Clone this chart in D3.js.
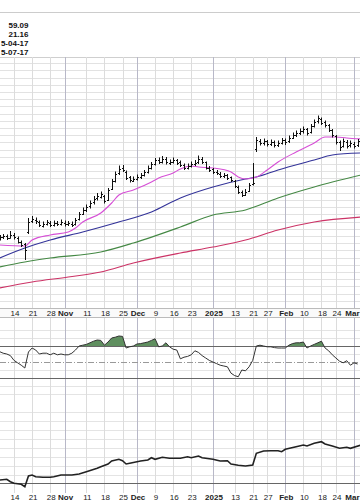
<!DOCTYPE html>
<html><head><meta charset="utf-8">
<script src="https://cdn.jsdelivr.net/npm/d3@7"></script>
<style>body{margin:0;background:#fff}svg{display:block}text{font-family:"Liberation Sans",Arial,sans-serif}</style>
</head><body><svg id="c" width="360" height="504"></svg>
<script>
// trading-day index of first bar (index 0 = 2024-10-14)
const firstIndex = -4;
const opens  = [40.2,40.6,40.9,40.5,41.0,40.4,39.6,39.2,41.6,43.8,44.0,43.6,42.9,43.2,43.5,43.0,43.5,43.2,43.5,43.1,43.3,43.2,44.2,45.3,46.0,46.8,47.5,48.3,48.7,48.9,48.0,50.3,51.9,53.4,54.3,53.6,52.5,51.9,52.2,52.6,53.0,53.6,54.5,55.2,56.0,55.6,56.1,55.4,55.6,56.0,55.5,55.0,54.4,54.8,55.1,55.5,56.3,55.5,54.4,54.1,53.6,53.3,52.8,53.0,52.5,51.8,50.6,49.6,49.1,49.8,51.2,58.2,59.8,59.4,59.7,59.2,59.5,59.0,59.4,60.0,59.7,60.5,60.9,61.4,61.7,62.1,61.6,62.9,63.7,64.2,63.5,63.0,62.0,60.8,59.6,58.8,59.6,58.9,59.3,58.9];
const highs  = [41.0,41.2,41.1,41.8,41.4,40.7,39.9,39.4,44.4,44.8,44.5,43.9,43.7,44.0,43.8,43.9,43.8,44.1,43.9,43.8,43.7,44.4,45.6,46.5,47.1,47.9,48.8,49.4,49.7,49.0,50.4,52.2,53.7,54.9,55.0,53.9,52.8,52.7,53.1,53.4,54.0,54.9,55.6,56.4,56.5,56.8,56.6,56.1,56.5,56.2,55.9,55.3,55.3,55.7,56.0,56.9,56.6,55.7,54.8,54.4,54.0,53.6,53.4,53.2,52.7,52.0,50.9,49.9,50.2,51.4,55.4,60.6,60.2,60.3,60.0,60.1,59.9,59.9,60.4,60.3,60.9,61.5,61.9,62.3,62.7,62.4,63.2,64.1,64.9,64.5,63.9,63.2,62.2,61.0,59.9,60.3,60.0,59.9,59.6,60.2];
const lows   = [39.9,40.2,40.0,40.3,40.1,39.3,38.6,36.0,41.2,43.4,43.2,42.6,42.5,42.9,42.6,42.7,42.8,42.9,42.7,42.8,42.6,42.9,43.9,45.0,45.6,46.3,47.1,47.9,48.3,47.3,47.8,50.0,51.5,53.0,53.6,52.0,51.5,51.6,51.9,52.2,52.7,53.3,54.1,54.9,55.2,55.3,55.1,55.0,55.3,55.0,54.6,54.0,54.1,54.5,54.8,55.2,55.2,54.1,53.6,53.2,53.0,52.4,52.4,52.0,51.6,50.4,49.2,48.6,48.8,49.6,50.9,57.6,58.9,58.9,58.7,58.8,58.5,58.6,59.1,59.0,59.4,60.2,60.6,61.0,61.3,60.9,61.3,62.5,63.3,63.0,62.5,61.6,60.5,59.1,57.8,58.5,58.3,58.5,58.3,58.6];
const closes = [40.6,40.8,40.4,41.0,40.6,39.6,39.0,38.0,43.6,44.2,43.8,43.0,43.2,43.6,43.0,43.4,43.2,43.6,43.2,43.4,43.0,44.0,45.2,46.0,46.6,47.4,48.2,48.8,49.2,47.8,50.0,51.8,53.2,54.2,54.0,52.4,52.0,52.2,52.6,53.0,53.6,54.4,55.2,56.0,55.6,56.2,55.6,55.6,56.0,55.4,55.0,54.4,54.8,55.2,55.4,56.2,55.6,54.4,54.0,53.6,53.4,52.8,53.0,52.4,52.0,50.8,49.6,49.0,49.6,51.0,51.4,60.0,59.4,59.8,59.2,59.6,59.0,59.4,60.0,59.6,60.4,61.0,61.4,61.8,62.2,61.4,62.8,63.6,64.4,63.4,63.0,62.0,61.0,59.6,58.6,59.8,58.8,59.4,58.8,59.8];

// moving averages: [trading-day index, value]
const ma20  = [[-4,39.0],[3,38.8],[5,40.0],[10,41.0],[15,41.6],[17,42.4],[19,43.6],[24,45.4],[27,47.4],[29,49.0],[33,50.0],[38,51.6],[40,52.4],[44,53.4],[46,54.2],[49,54.8],[51,54.6],[55,54.4],[60,53.6],[62,52.6],[64,52.2],[67,52.6],[70,54.0],[73,55.6],[78,57.6],[83,59.4],[86,60.6],[89,60.6],[92,60.4],[96,60.2]];
const ma50  = [[-4,36.4],[3,38.4],[10,40.0],[19,41.6],[28,43.4],[38,45.6],[46,48.4],[55,50.6],[64,52.2],[67,52.6],[73,54.0],[83,56.0],[88,57.0],[96,57.4]];
const ma100 = [[-4,34.6],[3,35.6],[10,36.4],[24,37.6],[33,39.4],[46,42.6],[55,45.0],[64,46.0],[73,48.4],[83,50.6],[96,53.0]];
const ma200 = [[-4,30.4],[5,31.6],[15,32.6],[24,33.6],[33,35.4],[46,37.4],[55,38.6],[64,40.0],[73,42.0],[83,43.6],[96,44.6]];

const rsi = [63,61,60,58,52,49,46,42.5,62.5,67.5,65,60,61,61,59,61,59,60,59,59,61,65,70,71,72,74,76,77.5,77,71,75,80,81,82.5,82,67.5,69,70,72.5,73,74,75,77,79,69,70,74,69,66,65,54,56,57,59,64,62,58,55,52,50,48,46,45,44,36,33,31.6,40,39,44,52,70,71,70,69,69,68,67.5,67.5,67.5,71,73,74,74,75,67.5,70,72,74,76,67.5,64,59,55,51,49,51.6,46,49,47.5];

const relative = [[-4,0.3],[-2,0.37],[-1,0.13],[0,-0.03],[2,-0.13],[3,-0.37],[4,0.7],[5,0.8],[6,0.63],[8,0.57],[10,0.57],[11,0.63],[13,0.8],[15,0.8],[16,0.8],[18,0.9],[20,1.13],[23,1.47],[24,1.63],[26,1.9],[27,2.2],[29,2.37],[30,2.23],[31,1.9],[32,1.97],[35,2.2],[37,2.3],[38,2.53],[39,2.37],[41,2.57],[43,2.47],[46,2.47],[48,2.63],[49,2.53],[51,2.7],[52,2.53],[55,2.37],[57,2.2],[59,2.23],[60,1.9],[62,1.77],[64,1.7],[66,1.8],[67,2.97],[69,3.2],[71,3.23],[73,3.23],[74,3.13],[75,3.37],[78,3.63],[80,3.8],[81,3.7],[83,3.97],[85,4.13],[86,3.9],[88,3.7],[90,3.47],[92,3.57],[93,3.47],[96,3.8]];

const tickLabels = ["14","21","28","Nov","11","18","25","Dec","9","16","23","2025","13","21","27","Feb","10","18","24","Mar"];
const tickIndex  = [0,5,10,14,20,25,30,34,39,44,49,55,61,66,70,75,80,85,89,94];
const headerText = ["59.09","21.16","5-04-17","5-07-17"];

const svg = d3.select("#c");
const W = 360;
const x = d3.scaleLinear().domain([0,94]).range([14,354]);
const yP = d3.scaleLinear().domain([26.4,76.6]).range([308,57]);
const yR = d3.scaleLinear().domain([0,100]).range([402,322]);
const yB = d3.scaleLinear().domain([-1,8]).range([493,403]);

// header
svg.append("line").attr("x1",0).attr("x2",W).attr("y1",12.5).attr("y2",12.5).attr("stroke","#ccc");
headerText.forEach((t,i)=>{
  svg.append("text").attr("x",28.5).attr("y",28+i*9).attr("text-anchor","end")
    .attr("font-size",8).attr("font-weight","bold").attr("fill","#111").text(t);
});

const grid = svg.append("g");
d3.range(26.4+1.44, 76.6, 1.44).forEach(v=>{
  const yy = Math.round(yP(v))+0.5;
  grid.append("line").attr("x1",0).attr("x2",W).attr("y1",yy).attr("y2",yy).attr("stroke","#e2e2e2");
});
grid.append("line").attr("x1",0).attr("x2",W).attr("y1",57.5).attr("y2",57.5).attr("stroke","#cfcfcf");
[90,80,60,40,20,10].forEach(v=>{
  const yy = Math.round(yR(v))+0.5;
  grid.append("line").attr("x1",0).attr("x2",W).attr("y1",yy).attr("y2",yy).attr("stroke","#e4e4e4");
});
d3.range(0.8, 8, 0.9).forEach(v=>{
  const yy = Math.round(yB(v))+0.5;
  grid.append("line").attr("x1",0).attr("x2",W).attr("y1",yy).attr("y2",yy).attr("stroke","#e4e4e4");
});
tickIndex.forEach((ti,k)=>{
  const xx = Math.round(x(ti))+0.5;
  const major = isNaN(+tickLabels[k]) || tickLabels[k]==="2025";
  const col = major ? "#b8b8c8" : "#dcdcdc";
  [[57,308],[317,493]].forEach(([a,b])=>grid.append("line").attr("x1",xx).attr("x2",xx).attr("y1",a).attr("y2",b).attr("stroke",col));
});

function axisStrip(yTop, yBot, labelY){
  if(yTop!==null){
    svg.append("rect").attr("x",0).attr("y",yTop).attr("width",W).attr("height",yBot-yTop).attr("fill","#fafafa");
    svg.append("line").attr("x1",0).attr("x2",W).attr("y1",yTop+0.5).attr("y2",yTop+0.5).attr("stroke","#bbb");
    svg.append("line").attr("x1",0).attr("x2",W).attr("y1",yBot+0.5).attr("y2",yBot+0.5).attr("stroke","#bbb");
  }
  tickIndex.forEach((ti,k)=>{
    const major = isNaN(+tickLabels[k]) || tickLabels[k]==="2025";
    const t = svg.append("text").attr("x",x(ti)+1).attr("y",labelY).attr("text-anchor","middle")
      .attr("font-size",8).attr("font-weight",major?"bold":"normal").attr("fill","#222").text(tickLabels[k]);
    const bb = t.node().getBBox();
    if (bb.x + bb.width > W - 0.5) t.attr("text-anchor","end").attr("x", W - 0.5);
  });
}
axisStrip(308,317,315.5);
axisStrip(null,null,500);

const lineMA = d3.line().x(d=>x(d[0])).y(d=>yP(d[1])).curve(d3.curveMonotoneX);
[[ma200,"#cc3366"],[ma100,"#448844"],[ma50,"#333399"],[ma20,"#d64fd6"]].forEach(([d,c])=>{
  svg.append("path").attr("d",lineMA(d)).attr("fill","none").attr("stroke",c).attr("stroke-width",1.1);
});

const bars = svg.append("g").attr("stroke","#111").attr("stroke-width",1);
closes.forEach((c,k)=>{
  const i = firstIndex + k;
  const xx = Math.round(x(i))+0.5;
  bars.append("line").attr("x1",xx).attr("x2",xx).attr("y1",yP(highs[k])).attr("y2",yP(lows[k]));
  bars.append("line").attr("x1",xx-1.5).attr("x2",xx).attr("y1",Math.round(yP(opens[k]))+0.5).attr("y2",Math.round(yP(opens[k]))+0.5);
  bars.append("line").attr("x1",xx).attr("x2",xx+1.5).attr("y1",Math.round(yP(c))+0.5).attr("y2",Math.round(yP(c))+0.5);
});

const rsiPts = rsi.map((v,k)=>[firstIndex+k, v]);
svg.append("clipPath").attr("id","above70").append("rect").attr("x",0).attr("y",300).attr("width",W).attr("height",yR(70)-300);
svg.append("path").attr("clip-path","url(#above70)")
  .attr("d", d3.area().x(d=>x(d[0])).y0(yR(70)).y1(d=>yR(d[1]))(rsiPts))
  .attr("fill","#5f8f5f").attr("stroke","none");
[70,30].forEach(v=>{
  const yy = Math.round(yR(v))+0.5;
  svg.append("line").attr("x1",0).attr("x2",W).attr("y1",yy).attr("y2",yy).attr("stroke","#666");
});
svg.append("line").attr("x1",0).attr("x2",W).attr("y1",Math.round(yR(50))+0.5).attr("y2",Math.round(yR(50))+0.5)
  .attr("stroke","#999").attr("stroke-dasharray","6,2,1,2");
svg.append("path").attr("d", d3.line().x(d=>x(d[0])).y(d=>yR(d[1]))(rsiPts))
  .attr("fill","none").attr("stroke","#333").attr("stroke-width",1);

svg.append("line").attr("x1",0).attr("x2",W).attr("y1",Math.round(yB(0))+0.5).attr("y2",Math.round(yB(0))+0.5).attr("stroke","#666");
svg.append("path").attr("d", d3.line().x(d=>x(d[0])).y(d=>yB(d[1]))(relative))
  .attr("fill","none").attr("stroke","#222").attr("stroke-width",1.6);
</script></body></html>
